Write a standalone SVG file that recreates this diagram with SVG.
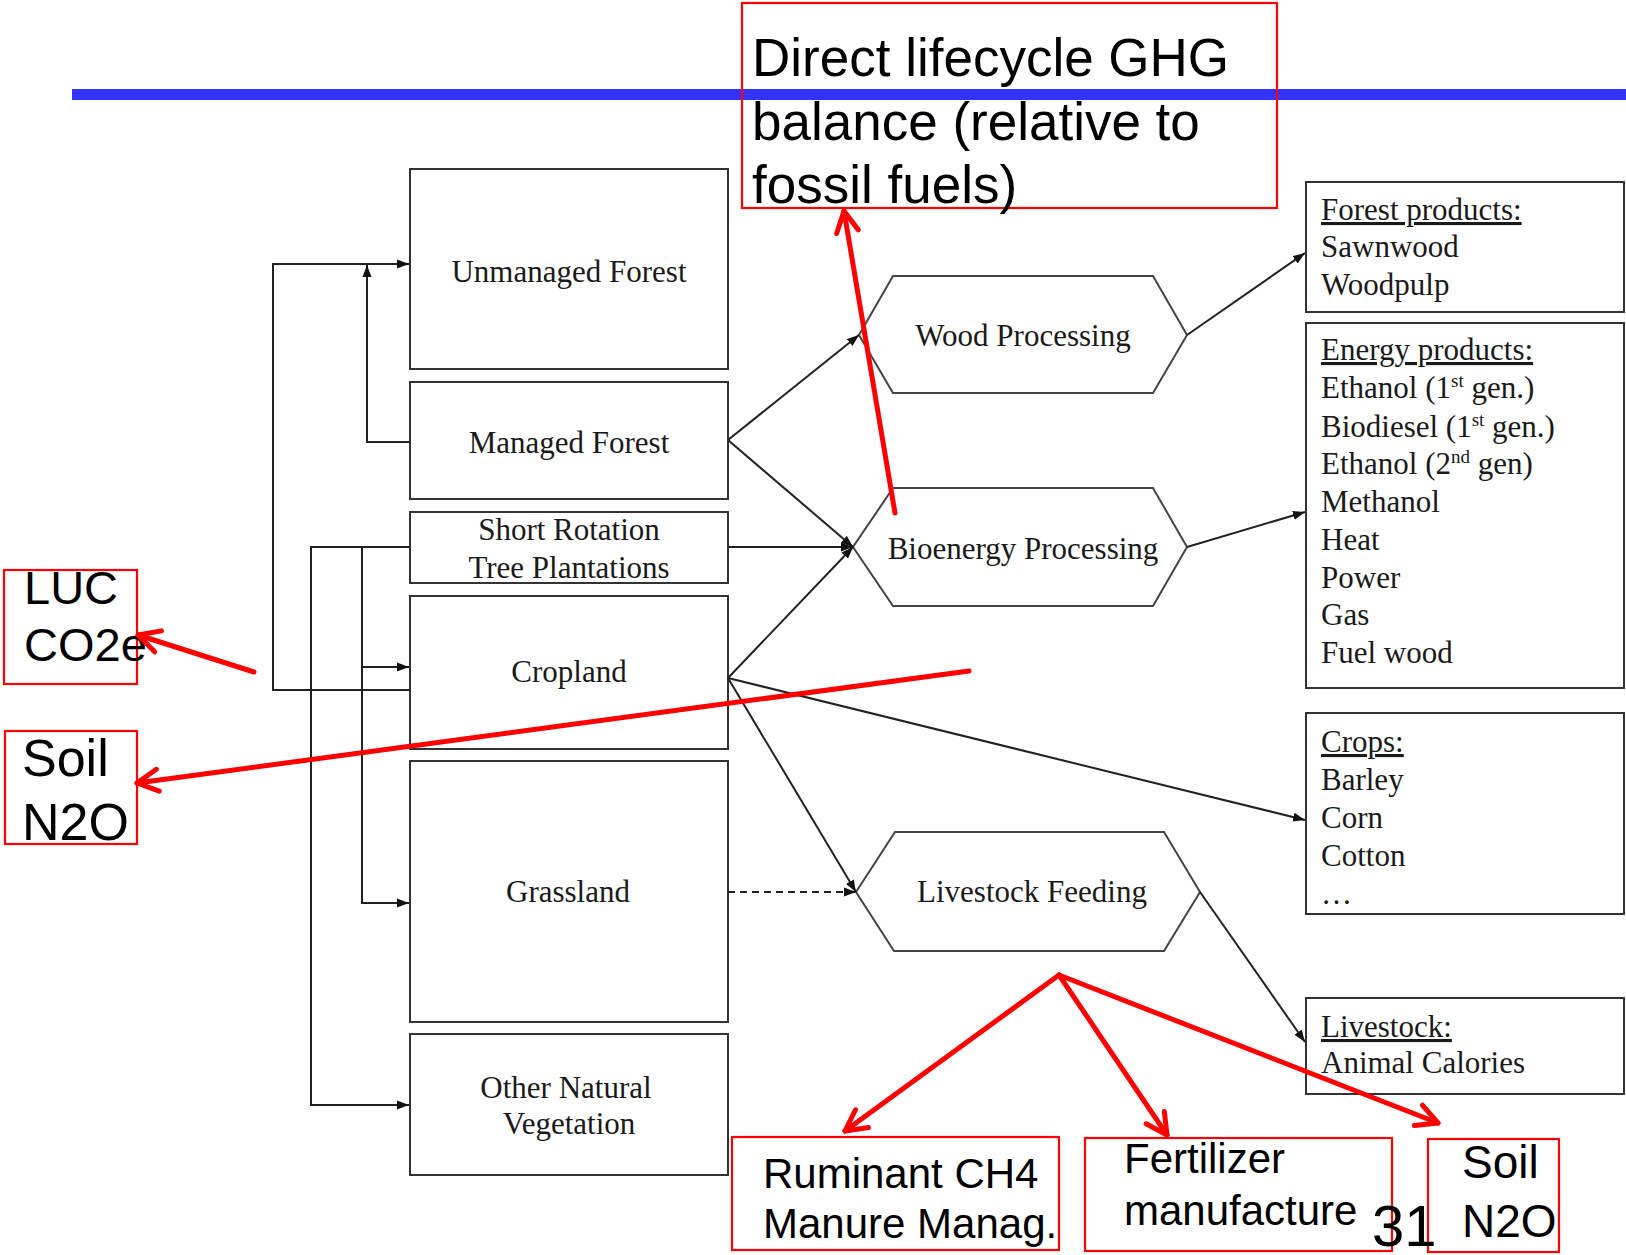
<svg xmlns="http://www.w3.org/2000/svg" width="1626" height="1255" viewBox="0 0 1626 1255">
<style>
.box{fill:#fff;stroke:#333;stroke-width:2}
.hex{fill:#fff;stroke:#444;stroke-width:2}
.t{font-family:"Liberation Serif","Times New Roman",serif;font-size:31px;fill:#1a1a1a}
.c{text-anchor:middle}
.ln{fill:none;stroke:#222;stroke-width:2}
.dash{stroke-dasharray:7 5}
.rbox{fill:none;stroke:#f00;stroke-width:2.2}
.rt{font-family:"Liberation Sans",Arial,sans-serif;fill:#000}
.rl{fill:none;stroke:#f00;stroke-width:5;stroke-linecap:round}
.sup{font-size:19px}
</style>
<defs>
<marker id="ah" markerUnits="userSpaceOnUse" viewBox="0 0 12 10" refX="12" refY="5" markerWidth="12" markerHeight="10" orient="auto">
<path d="M0,0.5 L12,5 L0,9.5 z" fill="#111"/>
</marker>
<marker id="rh" markerUnits="userSpaceOnUse" viewBox="-26 -16 30 32" refX="0" refY="0" markerWidth="30" markerHeight="32" orient="auto" overflow="visible">
<path d="M-21,-11 L0,0 L-21,11" fill="none" stroke="#f00" stroke-width="5" stroke-linecap="round" stroke-linejoin="round"/>
</marker>
</defs>
<rect width="1626" height="1255" fill="#fff"/>
<rect id="title-bar" x="72" y="89" width="1554" height="11" fill="#3333ff"/>

<g id="unmanaged-forest"><rect class="box" x="410" y="169" width="318" height="200"/><text class="t c" x="569" y="282">Unmanaged Forest</text></g>
<g id="managed-forest"><rect class="box" x="410" y="382" width="318" height="117"/><text class="t c" x="569" y="453">Managed Forest</text></g>
<g id="short-rotation"><rect class="box" x="410" y="512" width="318" height="71"/><text class="t c" x="569" y="540">Short Rotation</text><text class="t c" x="569" y="578">Tree Plantations</text></g>
<g id="cropland"><rect class="box" x="410" y="596" width="318" height="153"/><text class="t c" x="569" y="682">Cropland</text></g>
<g id="grassland"><rect class="box" x="410" y="761" width="318" height="261"/><text class="t c" x="568" y="902">Grassland</text></g>
<g id="other-natural"><rect class="box" x="410" y="1034" width="318" height="141"/><text class="t c" x="566" y="1098">Other Natural</text><text class="t c" x="569" y="1134">Vegetation</text></g>

<g id="wood-processing"><polygon class="hex" points="893,276 1153,276 1187,335 1153,393 893,393 859,335"/><text class="t c" x="1023" y="346">Wood Processing</text></g>
<g id="bioenergy-processing"><polygon class="hex" points="893,488 1153,488 1187,547 1153,606 893,606 853,547"/><text class="t c" x="1023" y="559">Bioenergy Processing</text></g>
<g id="livestock-feeding"><polygon class="hex" points="895,832 1164,832 1200,892 1164,951 894,951 856,892"/><text class="t c" x="1032" y="902">Livestock Feeding</text></g>

<g id="forest-products"><rect class="box" x="1306" y="182" width="318" height="130"/>
<text class="t" x="1321" y="220" text-decoration="underline">Forest products:</text>
<text class="t" x="1321" y="257">Sawnwood</text>
<text class="t" x="1321" y="295">Woodpulp</text></g>
<g id="energy-products"><rect class="box" x="1306" y="323" width="318" height="365"/>
<text class="t" x="1321" y="360" text-decoration="underline">Energy products:</text>
<text class="t" x="1321" y="398">Ethanol (1<tspan class="sup" dy="-11">st</tspan><tspan dy="11"> gen.)</tspan></text>
<text class="t" x="1321" y="437">Biodiesel (1<tspan class="sup" dy="-11">st</tspan><tspan dy="11"> gen.)</tspan></text>
<text class="t" x="1321" y="474">Ethanol (2<tspan class="sup" dy="-11">nd</tspan><tspan dy="11"> gen)</tspan></text>
<text class="t" x="1321" y="512">Methanol</text>
<text class="t" x="1321" y="550">Heat</text>
<text class="t" x="1321" y="588">Power</text>
<text class="t" x="1321" y="625">Gas</text>
<text class="t" x="1321" y="663">Fuel wood</text></g>
<g id="crops"><rect class="box" x="1306" y="713" width="318" height="201"/>
<text class="t" x="1321" y="752" text-decoration="underline">Crops:</text>
<text class="t" x="1321" y="790">Barley</text>
<text class="t" x="1321" y="828">Corn</text>
<text class="t" x="1321" y="866">Cotton</text>
<text class="t" x="1321" y="904">…</text></g>
<g id="livestock"><rect class="box" x="1306" y="998" width="318" height="96"/>
<text class="t" x="1321" y="1037" text-decoration="underline">Livestock:</text>
<text class="t" x="1321" y="1073">Animal Calories</text></g>

<g id="connectors">
<path class="ln" d="M410,690 H273 V264 H409" marker-end="url(#ah)"/>
<path class="ln" d="M410,442 H367 V265" marker-end="url(#ah)"/>
<path class="ln" d="M410,547 H311 V1105 H409" marker-end="url(#ah)"/>
<path class="ln" d="M362,547 V903 H409" marker-end="url(#ah)"/>
<path class="ln" d="M362,667 H409" marker-end="url(#ah)"/>
<path class="ln" d="M728,440 L859,335" marker-end="url(#ah)"/>
<path class="ln" d="M728,440 L853,547" marker-end="url(#ah)"/>
<path class="ln" d="M728,547 L853,547" marker-end="url(#ah)"/>
<path class="ln" d="M728,678 L853,547" marker-end="url(#ah)"/>
<path class="ln" d="M728,678 L1305,820" marker-end="url(#ah)"/>
<path class="ln" d="M728,678 L856,892" marker-end="url(#ah)"/>
<path class="ln dash" d="M728,892 L856,892" marker-end="url(#ah)"/>
<path class="ln" d="M1187,335 L1305,253" marker-end="url(#ah)"/>
<path class="ln" d="M1187,547 L1305,512" marker-end="url(#ah)"/>
<path class="ln" d="M1200,892 L1305,1042" marker-end="url(#ah)"/>
</g>

<g id="note-direct-ghg"><rect class="rbox" x="742" y="3" width="535" height="205"/>
<text class="rt" font-size="53" x="752" y="76">Direct lifecycle GHG</text>
<text class="rt" font-size="53" x="752" y="140">balance (relative to</text>
<text class="rt" font-size="53" x="752" y="203">fossil fuels)</text></g>
<g id="note-luc"><rect class="rbox" x="4" y="570" width="133" height="114"/>
<text class="rt" font-size="47" x="24" y="604">LUC</text>
<text class="rt" font-size="47" x="24" y="661">CO2e</text></g>
<g id="note-soil-left"><rect class="rbox" x="5" y="731" width="132" height="113"/>
<text class="rt" font-size="52" x="22" y="776">Soil</text>
<text class="rt" font-size="52" x="22" y="840">N2O</text></g>
<g id="note-ruminant"><rect class="rbox" x="732" y="1137" width="327" height="113"/>
<text class="rt" font-size="42" x="763" y="1188">Ruminant CH4</text>
<text class="rt" font-size="42" x="763" y="1238">Manure Manag.</text></g>
<g id="note-fertilizer"><rect class="rbox" x="1085" y="1138" width="307" height="113"/>
<text class="rt" font-size="42" x="1124" y="1173">Fertilizer</text>
<text class="rt" font-size="42" x="1124" y="1225">manufacture</text></g>
<g id="note-soil-bottom"><rect class="rbox" x="1428" y="1139" width="131" height="113"/>
<text class="rt" font-size="46" x="1462" y="1178">Soil</text>
<text class="rt" font-size="46" x="1462" y="1237">N2O</text></g>
<text id="page-number" class="rt" font-size="58" x="1372" y="1246">31</text>

<g id="red-connectors">
<path class="rl" d="M895,513 L844,211" marker-end="url(#rh)"/>
<path class="rl" d="M254,672 L138,635" marker-end="url(#rh)"/>
<path class="rl" d="M969,671 L137,783" marker-end="url(#rh)"/>
<path class="rl" d="M1059,975 L845,1131" marker-end="url(#rh)"/>
<path class="rl" d="M1059,975 L1167,1135" marker-end="url(#rh)"/>
<path class="rl" d="M1059,975 L1438,1123" marker-end="url(#rh)"/>
</g>
</svg>
